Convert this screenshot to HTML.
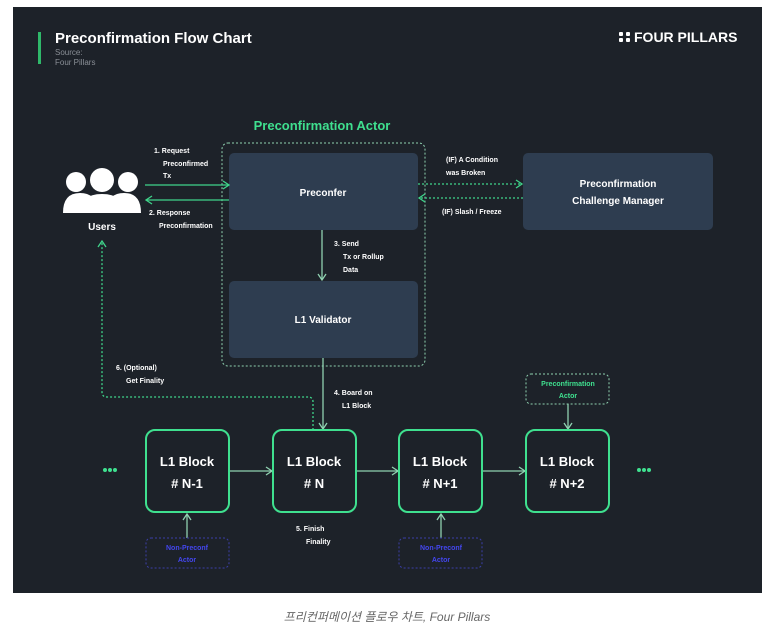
<!DOCTYPE html>
<html><head><meta charset="utf-8"><style>
body{margin:0;width:774px;height:636px;background:#fff;overflow:hidden;font-family:"Liberation Sans","Noto Sans CJK KR",sans-serif}
.cap{position:absolute;left:0;width:774px;top:608px;text-align:center;font-style:italic;color:#666;font-size:12px}
</style></head><body>
<svg width="774" height="636" style="position:absolute;left:0;top:0" font-family="Liberation Sans, sans-serif">
<defs>
<marker id="a" markerWidth="8" markerHeight="10" refX="7" refY="5" orient="auto" markerUnits="userSpaceOnUse"><path d="M1,1 L7,5 L1,9" fill="none" stroke="#3fd48a" stroke-width="1.3"/></marker>
<marker id="p" markerWidth="8" markerHeight="10" refX="7" refY="5" orient="auto" markerUnits="userSpaceOnUse"><path d="M1,1 L7,5 L1,9" fill="none" stroke="#8fd1b0" stroke-width="1.3"/></marker>
</defs>
<rect x="13" y="7" width="749" height="586" fill="#1d2229"/>
<rect x="38" y="32" width="3" height="32" fill="#2fb86a"/>
<text x="55" y="43" fill="#fff" font-size="15" font-weight="bold">Preconfirmation Flow Chart</text>
<text x="55" y="55" fill="#8a8f96" font-size="8">Source:</text>
<text x="55" y="65" fill="#8a8f96" font-size="8">Four Pillars</text>
<g fill="#fff"><rect x="619" y="32" width="4" height="4" rx="1"/><rect x="626" y="32" width="4" height="4" rx="1"/><rect x="619" y="38" width="4" height="4" rx="1"/><rect x="626" y="38" width="4" height="4" rx="1"/></g>
<text x="634" y="42" fill="#fff" font-size="14" font-weight="bold">FOUR PILLARS</text>
<text x="322" y="130" fill="#3fe08f" font-size="13" font-weight="bold" text-anchor="middle">Preconfirmation Actor</text>
<rect x="222" y="143" width="203" height="223" rx="6" fill="none" stroke="#8fd1b0" stroke-width="1" stroke-dasharray="2,2"/>
<rect x="229" y="153" width="189" height="77" rx="5" fill="#2e3d50"/>
<text x="323" y="196" fill="#fff" font-size="10" font-weight="bold" text-anchor="middle">Preconfer</text>
<rect x="229" y="281" width="189" height="77" rx="5" fill="#2e3d50"/>
<text x="323" y="323" fill="#fff" font-size="10" font-weight="bold" text-anchor="middle">L1 Validator</text>
<rect x="523" y="153" width="190" height="77" rx="5" fill="#2e3d50"/>
<text x="618" y="187" fill="#fff" font-size="10" font-weight="bold" text-anchor="middle">Preconfirmation</text>
<text x="618" y="204" fill="#fff" font-size="10" font-weight="bold" text-anchor="middle">Challenge Manager</text>
<g fill="#fff">
<circle cx="76" cy="182" r="10"/><circle cx="128" cy="182" r="10"/><circle cx="102" cy="180" r="12"/>
<path d="M63,213 Q63,193 80,193 Q88,193 92,197 L92,213Z"/>
<path d="M141,213 Q141,193 124,193 Q116,193 112,197 L112,213Z"/>
<path d="M80,213 Q80,194 102,194 Q124,194 124,213Z"/>
</g>
<text x="102" y="230" fill="#fff" font-size="10" font-weight="bold" text-anchor="middle">Users</text>
<g fill="#fff" font-size="7" font-weight="bold">
<text x="154" y="153">1. Request</text><text x="163" y="166">Preconfirmed</text><text x="163" y="178">Tx</text>
<text x="149" y="215">2. Response</text><text x="159" y="228">Preconfirmation</text>
<text x="446" y="162">(IF) A Condition</text><text x="446" y="175">was Broken</text>
<text x="442" y="214">(IF) Slash / Freeze</text>
<text x="334" y="246">3. Send</text><text x="343" y="259">Tx or Rollup</text><text x="343" y="272">Data</text>
<text x="334" y="395">4. Board on</text><text x="342" y="408">L1 Block</text>
<text x="116" y="370">6. (Optional)</text><text x="126" y="383">Get Finality</text>
<text x="296" y="531">5. Finish</text><text x="306" y="544">Finality</text>
</g>
<g stroke="#3fd48a" stroke-width="1.3" fill="none">
<line x1="145" y1="185" x2="229" y2="185" marker-end="url(#a)"/>
<line x1="229" y1="200" x2="146" y2="200" marker-end="url(#a)"/>
<line x1="418" y1="184" x2="522" y2="184" stroke-dasharray="2,2" marker-end="url(#a)"/>
<line x1="523" y1="198" x2="419" y2="198" stroke-dasharray="2,2" marker-end="url(#a)"/>
<line x1="322" y1="230" x2="322" y2="280" stroke="#8fd1b0" marker-end="url(#p)"/>
<line x1="323" y1="358" x2="323" y2="429" stroke="#8fd1b0" marker-end="url(#p)"/>
<path d="M313,430 L313,402 Q313,397 308,397 L107,397 Q102,397 102,392 L102,241" stroke-dasharray="2,2" marker-end="url(#a)"/>
<line x1="229" y1="471" x2="272" y2="471" stroke="#8fd1b0" marker-end="url(#p)"/>
<line x1="356" y1="471" x2="398" y2="471" stroke="#8fd1b0" marker-end="url(#p)"/>
<line x1="482" y1="471" x2="525" y2="471" stroke="#8fd1b0" marker-end="url(#p)"/>
<line x1="187" y1="538" x2="187" y2="514" stroke="#8fd1b0" marker-end="url(#p)"/>
<line x1="441" y1="538" x2="441" y2="514" stroke="#8fd1b0" marker-end="url(#p)"/>
<line x1="568" y1="404" x2="568" y2="429" stroke="#8fd1b0" marker-end="url(#p)"/>
</g>
<g fill="none" stroke="#3fe08f" stroke-width="2">
<rect x="146" y="430" width="83" height="82" rx="9"/>
<rect x="273" y="430" width="83" height="82" rx="9"/>
<rect x="399" y="430" width="83" height="82" rx="9"/>
<rect x="526" y="430" width="83" height="82" rx="9"/>
</g>
<g fill="#fff" font-size="13" font-weight="bold" text-anchor="middle">
<text x="187" y="466">L1 Block</text><text x="187" y="488"># N-1</text>
<text x="314" y="466">L1 Block</text><text x="314" y="488"># N</text>
<text x="440" y="466">L1 Block</text><text x="440" y="488"># N+1</text>
<text x="567" y="466">L1 Block</text><text x="567" y="488"># N+2</text>
</g>
<g fill="#3fe08f"><circle cx="105" cy="470" r="2"/><circle cx="110" cy="470" r="2"/><circle cx="115" cy="470" r="2"/>
<circle cx="639" cy="470" r="2"/><circle cx="644" cy="470" r="2"/><circle cx="649" cy="470" r="2"/></g>
<rect x="526" y="374" width="83" height="30" rx="5" fill="none" stroke="#8fd1b0" stroke-dasharray="2,2"/>
<text x="568" y="386" fill="#3fe08f" font-size="7" font-weight="bold" text-anchor="middle">Preconfirmation</text>
<text x="568" y="398" fill="#3fe08f" font-size="7" font-weight="bold" text-anchor="middle">Actor</text>
<rect x="146" y="538" width="83" height="30" rx="5" fill="none" stroke="#3c3fa8" stroke-dasharray="2,2"/>
<text x="187" y="550" fill="#4346ee" font-size="7" font-weight="bold" text-anchor="middle">Non-Preconf</text>
<text x="187" y="562" fill="#4346ee" font-size="7" font-weight="bold" text-anchor="middle">Actor</text>
<rect x="399" y="538" width="83" height="30" rx="5" fill="none" stroke="#3c3fa8" stroke-dasharray="2,2"/>
<text x="441" y="550" fill="#4346ee" font-size="7" font-weight="bold" text-anchor="middle">Non-Preconf</text>
<text x="441" y="562" fill="#4346ee" font-size="7" font-weight="bold" text-anchor="middle">Actor</text>
</svg>
<div class="cap">프리컨퍼메이션 플로우 차트, Four Pillars</div>
</body></html>
